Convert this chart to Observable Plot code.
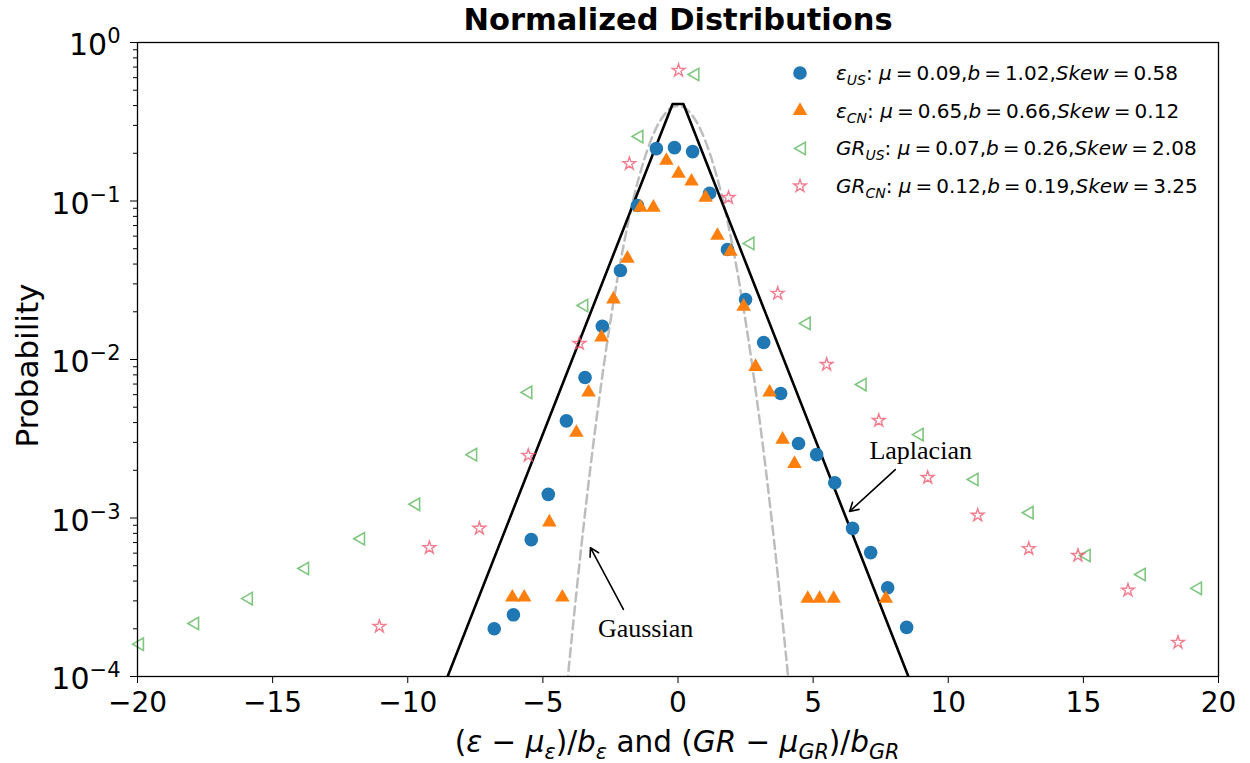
<!DOCTYPE html>
<html>
<head>
<meta charset="utf-8">
<script src="https://cdn.jsdelivr.net/npm/d3@7"></script>
<script src="https://cdn.jsdelivr.net/npm/@observablehq/plot@0.6"></script>
<style>
  body { margin: 0; background: #fff; }
  #chart svg { display: block; }
</style>
</head>
<body>
<div id="chart"></div>
<script>
// ---------- data ----------
const epsUsX = [-6.80,-6.09,-5.43,-4.80,-4.13,-3.44,-2.80,-2.13,-1.50,-0.80,-0.13,0.54,1.17,1.83,2.50,3.17,3.80,4.46,5.13,5.80,6.46,7.13,7.76,8.46];
const epsUsY = [2.0e-4,2.45e-4,7.3e-4,1.41e-3,4.1e-3,7.7e-3,0.0162,0.0364,0.0937,0.214,0.217,0.205,0.112,0.0494,0.0239,0.0128,6.1e-3,2.95e-3,2.51e-3,1.67e-3,8.6e-4,6.05e-4,3.63e-4,2.04e-4];

const epsCnX = [-6.13,-5.69,-4.76,-4.28,-3.76,-3.31,-2.83,-2.39,-1.87,-1.39,-0.91,-0.43,0.02,0.50,1.02,1.46,1.94,2.43,2.87,3.39,3.87,4.31,4.80,5.24,5.76,7.69];
const epsCnY = [3.16e-4,3.16e-4,9.4e-4,3.16e-4,3.46e-3,6.2e-3,0.0138,0.024,0.0434,0.091,0.091,0.180,0.149,0.133,0.105,0.0605,0.048,0.0216,9.0e-3,6.2e-3,3.13e-3,2.2e-3,3.1e-4,3.1e-4,3.1e-4,3.1e-4];

const grUsX = [-19.98,-17.94,-15.95,-13.87,-11.80,-9.76,-7.65,-5.61,-3.54,-1.50,0.57,2.61,4.69,6.76,8.87,10.90,12.94,15.05,17.09,19.17];
const grUsY = [1.6e-4,2.16e-4,3.1e-4,4.8e-4,7.4e-4,1.22e-3,2.51e-3,6.2e-3,0.0219,0.255,0.628,0.054,0.0169,6.95e-3,3.36e-3,1.75e-3,1.08e-3,5.8e-4,4.4e-4,3.6e-4];

const grCnX = [-11.05,-9.20,-7.35,-5.54,-3.65,-1.80,0.02,1.87,3.69,5.50,7.43,9.24,11.09,12.98,14.80,16.65,18.50];
const grCnY = [2.07e-4,6.5e-4,8.6e-4,2.48e-3,0.0126,0.172,0.666,0.105,0.0261,9.3e-3,4.12e-3,1.8e-3,1.04e-3,6.4e-4,5.8e-4,3.5e-4,1.64e-4];

// reference curves
const laplaceX = [-8.8,-0.2,0.2,8.8];
const laplaceY = [7.6e-5,0.409,0.409,7.6e-5];
const gaussX = [-4.2,-4.0,-3.5,-3.0,-2.5,-2.0,-1.5,-1.0,-0.6,-0.2,0.2,0.6,1.0,1.5,2.0,2.5,3.0,3.5,4.0,4.2];
const gaussY = [5.9e-5,1.34e-4,8.7e-4,4.4e-3,0.0175,0.054,0.13,0.242,0.333,0.391,0.391,0.333,0.242,0.13,0.054,0.0175,4.4e-3,8.7e-4,1.34e-4,5.9e-5];

// legend entries
const legendNames = ["epsUS","epsCN","grUS","grCN"];
const legendMu = ["0.09","0.65","0.07","0.12"];
const legendB = ["1.02","0.66","0.26","0.19"];
const legendSkew = ["0.58","0.12","2.08","3.25"];

// annotations
const annText = ["Laplacian","Gaussian"];
const annTextX = [8.98,-1.2];
const annTextY = [2.67e-3,2.01e-4];
const annFromX = [8.04,-2.02];
const annFromY = [2.02e-3,2.65e-4];
const annToX = [6.35,-3.24];
const annToY = [1.10e-3,6.5e-4];

// axis ticks
const xTicks = [-20,-15,-10,-5,0,5,10,15,20];
const yMajor = [1e-4,1e-3,1e-2,1e-1,1];
const yExp = {"0.0001":"−4","0.001":"−3","0.01":"−2","0.1":"−1","1":"0"};
const yMinor = [];
for (let k = -4; k < 0; k++) for (let m = 2; m <= 9; m++) yMinor.push(m * Math.pow(10, k));

// ---------- build tables ----------
const zip = (xs, ys) => xs.map((x, i) => ({x, y: ys[i]}));
const epsUs = zip(epsUsX, epsUsY);
const epsCn = zip(epsCnX, epsCnY);
const grUs = zip(grUsX, grUsY);
const grCn = zip(grCnX, grCnY);
const laplace = zip(laplaceX, laplaceY);
const gauss = zip(gaussX, gaussY);
const ann = annText.map((t, i) => ({t, x: annTextX[i], y: annTextY[i], x1: annFromX[i], y1: annFromY[i], x2: annToX[i], y2: annToY[i]}));

const triangleLeft = {
  draw(context, size) {
    const s = Math.sqrt(size * 4 / Math.sqrt(3));
    const h = s * Math.sqrt(3) / 2;
    context.moveTo(-h / 2, 0);
    context.lineTo(h / 2, -s / 2);
    context.lineTo(h / 2, s / 2);
    context.closePath();
  }
};

const C_BLUE = "#1f77b4", C_ORANGE = "#ff7f0e", C_GREEN = "#2ca02c", C_RED = "#f0506a";
const FONT = "DejaVu Sans, Liberation Sans, sans-serif";

const W = 1250, H = 763;
const chart = Plot.plot({
  width: W, height: H,
  marginLeft: 137, marginRight: 32, marginTop: 42, marginBottom: 87,
  style: {fontFamily: FONT, background: "white", color: "black", overflow: "visible"},
  x: {domain: [-20, 20]},
  y: {type: "log", domain: [1e-4, 1]},
  marks: [
    Plot.line(gauss, {x: "x", y: "y", stroke: "#bdbdbd", strokeWidth: 2.5, strokeDasharray: "9,5", curve: "catmull-rom", clip: true}),
    Plot.line(laplace, {x: "x", y: "y", stroke: "black", strokeWidth: 2.6, clip: true}),
    Plot.dot(epsUs, {x: "x", y: "y", r: 6.8, fill: C_BLUE}),
    Plot.dot(epsCn, {x: "x", y: "y", r: 5.4, symbol: "triangle", fill: C_ORANGE}),
    Plot.dot(grUs, {x: "x", y: "y", r: 4.6, symbol: triangleLeft, fill: "none", stroke: C_GREEN, strokeOpacity: 0.6, strokeWidth: 1.6}),
    Plot.dot(grCn, {x: "x", y: "y", r: 4.0, symbol: "star", fill: "none", stroke: C_RED, strokeOpacity: 0.75, strokeWidth: 1.4}),
    Plot.arrow(ann, {x1: "x1", y1: "y1", x2: "x2", y2: "y2", stroke: "black", strokeWidth: 1.6, headLength: 9}),
    Plot.text(ann, {x: "x", y: "y", text: "t", fontFamily: "Liberation Serif, DejaVu Serif, serif", fontSize: 26, fill: "black"}),
    Plot.frame({stroke: "black", strokeWidth: 1.3}),
    Plot.axisX({ticks: xTicks, tickSize: 7, tickPadding: 9, fontSize: 28, label: null,
      tickFormat: d => d < 0 ? "−" + (-d) : String(d)}),
    Plot.axisY({ticks: yMinor, tickSize: 4, tickFormat: () => "", label: null}),
    Plot.axisY({ticks: yMajor, tickSize: 7, tickPadding: 10, fontSize: 30, label: null,
      tickFormat: d => "10^" + yExp[String(d)]}),
    Plot.text(["Normalized Distributions"], {frameAnchor: "top", lineAnchor: "middle", dy: -22, fontWeight: "bold", fontSize: 30.5, fill: "black"}),
    Plot.text(["Probability"], {frameAnchor: "left", textAnchor: "middle", lineAnchor: "middle", dx: -109, dy: 6, rotate: -90, fontSize: 31, fill: "black"})
  ]
});
document.getElementById("chart").appendChild(chart);

const svg = d3.select(chart);

// superscripts for y tick labels
svg.selectAll("text").each(function() {
  const t = d3.select(this);
  const s = t.text();
  if (/^10\^/.test(s)) {
    const exp = s.slice(3);
    t.text("");
    t.append("tspan").text("10");
    t.append("tspan").attr("font-size", 21).attr("dy", -12).text(exp);
    t.attr("transform", (t.attr("transform") || "") + " translate(0,3)");
  }
});

// rich text helper
function rich(parent, x, y, segs, size, anchor) {
  const t = parent.append("text").attr("x", x).attr("y", y)
    .attr("font-size", size).attr("font-family", FONT).attr("fill", "black")
    .attr("text-anchor", anchor || "start");
  let shifted = 0;
  segs.forEach(s => {
    const ts = t.append("tspan").text(s.t);
    if (s.i) ts.attr("font-style", "italic");
    const want = s.sub ? size * 0.25 : 0;
    if (want !== shifted) { ts.attr("dy", want - shifted); shifted = want; }
    if (s.sub) ts.attr("font-size", size * 0.7);
  });
  return t;
}

// x-axis label
rich(svg, 677, 752, [
  {t: "("}, {t: "ε", i: 1}, {t: " − "}, {t: "μ", i: 1}, {t: "ε", i: 1, sub: 1}, {t: ")/"},
  {t: "b", i: 1}, {t: "ε", i: 1, sub: 1}, {t: " and ("}, {t: "GR", i: 1}, {t: " − "},
  {t: "μ", i: 1}, {t: "GR", i: 1, sub: 1}, {t: ")/"}, {t: "b", i: 1}, {t: "GR", i: 1, sub: 1}
], 29.5, "middle");

// legend
const TS = "\u2009";
const legendSymbols = [d3.symbolCircle, d3.symbolTriangle, triangleLeft, d3.symbolStar];
const legendSizes = [Math.PI * 6.8 * 6.8, Math.PI * 5.4 * 5.4, Math.PI * 4.6 * 4.6, Math.PI * 4 * 4];
const legendFill = [C_BLUE, C_ORANGE, "none", "none"];
const legendStroke = ["none", "none", C_GREEN, C_RED];
const legendSO = [1, 1, 0.6, 0.75];
const legendVar = [["ε", "US"], ["ε", "CN"], ["GR", "US"], ["GR", "CN"]];
const lg = svg.append("g").attr("class", "legend");
legendNames.forEach((n, i) => {
  const y = 73 + i * 37.7;
  lg.append("path").attr("d", d3.symbol(legendSymbols[i], legendSizes[i])())
    .attr("transform", `translate(800,${y})`)
    .attr("fill", legendFill[i]).attr("stroke", legendStroke[i])
    .attr("stroke-opacity", legendSO[i]).attr("stroke-width", i === 3 ? 1.4 : 1.6);
  rich(lg, 836, y + 7, [
    {t: legendVar[i][0], i: 1}, {t: legendVar[i][1], i: 1, sub: 1}, {t: ": "},
    {t: "μ", i: 1}, {t: TS + "=" + TS + legendMu[i] + ","}, {t: "b", i: 1}, {t: TS + "=" + TS + legendB[i] + ","},
    {t: "Skew", i: 1}, {t: TS + "=" + TS + legendSkew[i]}
  ], 20);
});
</script>
</body>
</html>
